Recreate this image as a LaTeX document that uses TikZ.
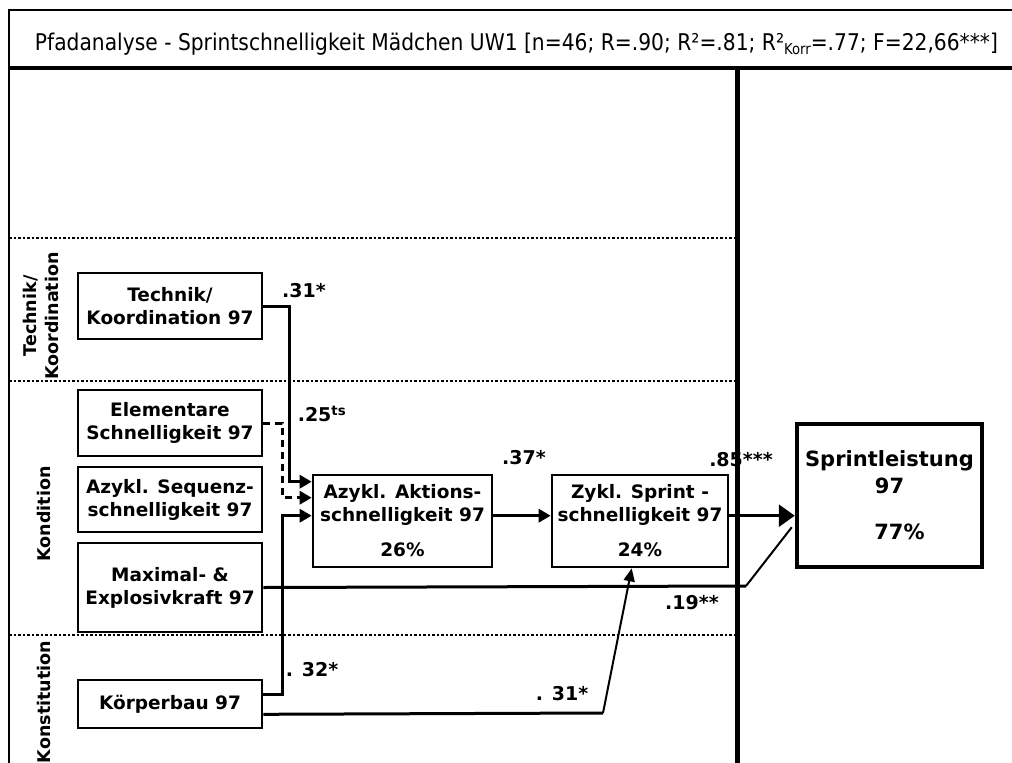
\documentclass[tikz,border=0pt]{standalone}
\usepackage{fontspec}
\setmainfont{DejaVu Sans}
\usetikzlibrary{arrows.meta,calc}
\begin{document}
\begin{tikzpicture}[x=1pt,y=-1pt,
  box/.style={draw,line width=2.6pt,inner sep=0pt,align=center,font=\bfseries\fontsize{18.5}{23}\selectfont},
  lbl/.style={font=\bfseries\fontsize{19}{22}\selectfont,inner sep=0pt},
  side/.style={font=\bfseries\fontsize{17.5}{22}\selectfont,rotate=90,align=center,inner sep=0pt},
  arr/.style={line width=3pt,-{Triangle[length=12pt,width=13pt]}},
  thinarr/.style={line width=2pt,-{Triangle[length=13pt,width=11pt]}},
  dline/.style={line width=2.6pt,dash pattern=on 2.5pt off 2pt},
]
\useasboundingbox (0,0) rectangle (1012,763);
\fill[white] (0,0) rectangle (1012,763);

% frame
\draw[line width=2.5pt] (9,763) -- (9,10) -- (1012,10);
\draw[line width=4.5pt] (9,68) -- (1012,68);
\draw[line width=5pt] (737,68) -- (737,763);
\draw[dline] (9,238) -- (735,238);
\draw[dline] (9,381) -- (735,381);
\draw[dline] (9,635) -- (735,635);

% title
\node[inner sep=0pt] (title) at (516.5,44) {\resizebox{963pt}{\height}{\fontsize{23}{26}\selectfont Pfadanalyse - Sprintschnelligkeit Mädchen UW1 [n=46; R=.90; R²=.81; R²\raisebox{-4pt}{\fontsize{15}{15}\selectfont Korr}=.77; F=22,66***]}};

% side labels
\node[side] (sTech) at (41,316) {Technik/\\Koordination};
\node[side] (sKond) at (44,514) {Kondition};
\node[side] (sKonst) at (44,702) {Konstitution};

% boxes
\node[box,minimum width=184pt,minimum height=66pt] (tech) at (170,306) {Technik/\\Koordination 97};
\node[box,minimum width=184pt,minimum height=66pt] (elem) at (170,423) {Elementare\\Schnelligkeit 97};
\node[box,minimum width=184pt,minimum height=65pt] (seq) at (170,499.5) {Azykl. Sequenz-\\schnelligkeit 97};
\node[box,minimum width=184pt,minimum height=89pt] (maxi) at (170,587.5) {Maximal- \&\\Explosivkraft 97};
\node[box,minimum width=184pt,minimum height=48pt] (koerp) at (170,704) {Körperbau 97};
\node[box,minimum width=179pt,minimum height=92pt] (azykl) at (402.5,521) {Azykl. Aktions-\\schnelligkeit 97\\[12pt]26\%};
\node[box,minimum width=176pt,minimum height=92pt] (zykl) at (640,521) {Zykl. Sprint -\\schnelligkeit 97\\[12pt]24\%};
\node[box,line width=4.5pt,minimum width=185pt,minimum height=143pt,font=\bfseries\fontsize{21}{27}\selectfont] (sprint) at (889.5,495.5) {Sprintleistung\\97\\[19pt]\hspace*{20pt}77\%};

% connectors
\draw[arr] (tech.east) -- ($(tech.east)+(26,0)$) |- ($(azykl.north west)+(0,8)$);
\draw[arr,dash pattern=on 7pt off 5pt] (elem.east) -- ($(elem.east)+(19,0)$) |- ($(azykl.north west)+(0,24)$);
\draw[arr] ($(koerp.north east)+(0,16)$) -- ++(19,0) |- ($(azykl.north west)+(0,42)$);
\draw[arr] ($(azykl.north east)+(0,42)$) -- ($(zykl.north west)+(0,42)$);
\coordinate (z1) at ($(zykl.north east)+(0,42)$);
\draw[line width=3pt,-{Triangle[length=16pt,width=22pt]}] (z1) -- (z1 -| sprint.west);
\coordinate (mbend) at (746,586);
\draw[line width=3pt] (maxi.east) -- (mbend);
\draw[line width=2pt] (mbend) -- ($(sprint.south west)+(-3,-42)$);
\coordinate (kbend) at (603,713);
\draw[line width=3pt] ($(koerp.south east)+(0,-15)$) -- (kbend);
\draw[thinarr] (kbend) -- ($(zykl.south west)+(81,0)$);

% path coefficients
\node[lbl] (c1) at (304,291) {.31*};
\node[lbl] (c2) at (322,414) {.25\textsuperscript{ts}};
\node[lbl] (c3) at (524,458) {.37*};
\node[lbl] (c4) at (741,460) {.85***};
\node[lbl] (c5) at (692,603) {.19**};
\node[lbl] (c6) at (312,670) {. 32*};
\node[lbl] (c7) at (562,694) {. 31*};
\end{tikzpicture}
\end{document}
